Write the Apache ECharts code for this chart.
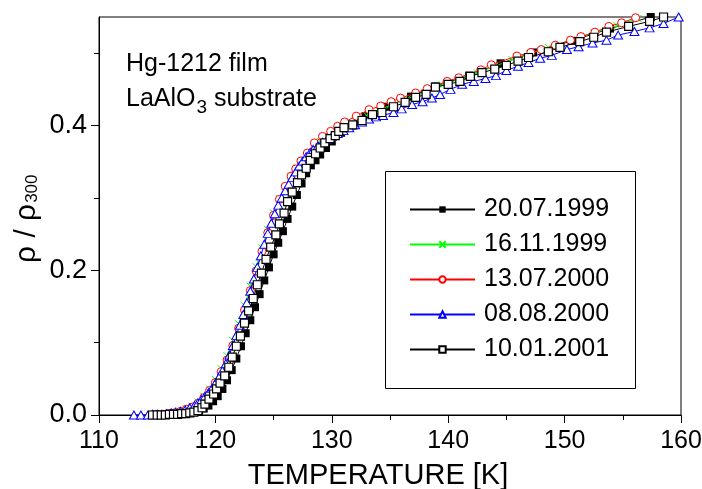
<!DOCTYPE html>
<html>
<head>
<meta charset="utf-8">
<script src="https://cdn.jsdelivr.net/npm/echarts@6/dist/echarts.min.js"></script>
<style>
html,body{margin:0;padding:0;background:#fff;}
#c{width:702px;height:489px;}
</style>
</head>
<body>
<div id="c"></div>
<script>
// ---- data ----
const NAMES = ['20.07.1999', '16.11.1999', '13.07.2000', '08.08.2000', '10.01.2001'];

// 20.07.1999 (filled squares)
const T_A = [115.0,115.4,115.8,116.2,116.6,117.0,117.4,117.8,118.2,118.6,119.0,119.4,119.8,120.2,120.6,121.0,121.4,121.8,122.2,122.6,123.0,123.4,123.8,124.2,124.6,125.0,125.4,125.8,126.2,126.6,127.0,127.4,127.8,128.2,128.6,129.0,129.5,130.0,130.8,131.7,132.9,134.7,136.8,138.9,141.8,144.5,147.3,150.6,153.9,157.4];
const R_A = [0.000,0.000,0.000,0.001,0.001,0.002,0.002,0.003,0.004,0.006,0.009,0.013,0.019,0.026,0.036,0.048,0.062,0.078,0.095,0.113,0.131,0.149,0.167,0.186,0.204,0.222,0.238,0.254,0.271,0.288,0.304,0.320,0.334,0.345,0.352,0.360,0.369,0.378,0.390,0.400,0.413,0.426,0.440,0.454,0.469,0.486,0.501,0.517,0.534,0.550];

// 16.11.1999 (green crosses)
const T_B = [114.5,115.0,115.5,116.0,116.5,117.0,117.5,118.0,118.5,119.0,119.5,120.0,120.5,121.0,121.5,122.0,122.5,123.0,123.5,124.0,124.5,125.0,125.5,126.0,126.5,127.0,127.5,128.0,128.5,129.0,129.6,130.3,131.0,132.0,133.0,134.0,135.0,136.5,138.0,139.5,141.0,142.5,144.0,145.5,147.0,148.6,150.5,152.5,154.5,156.3];
const R_B = [0.000,0.001,0.001,0.002,0.003,0.005,0.008,0.012,0.018,0.026,0.036,0.049,0.064,0.082,0.103,0.126,0.151,0.178,0.205,0.231,0.256,0.279,0.299,0.316,0.330,0.342,0.352,0.361,0.370,0.378,0.385,0.391,0.398,0.406,0.414,0.421,0.428,0.437,0.446,0.456,0.464,0.473,0.482,0.491,0.499,0.508,0.518,0.528,0.538,0.548];

// 13.07.2000 (red circles)
const T_C = [114.5,115.0,115.5,116.0,116.5,117.0,117.5,118.0,118.5,119.0,119.5,120.0,120.5,121.0,121.5,122.0,122.5,123.0,123.5,124.0,124.5,125.0,125.5,126.0,126.5,126.9,127.35,127.9,128.5,129.2,129.9,130.5,131.1,132.1,133.2,134.2,135.1,135.9,137.2,138.2,139.9,140.9,142.8,143.7,145.9,147.1,148.0,149.2,150.5,151.4,152.6,153.8,154.9,156.1];
const R_C = [0.000,0.001,0.001,0.002,0.003,0.005,0.008,0.011,0.016,0.024,0.034,0.045,0.060,0.076,0.096,0.120,0.145,0.172,0.199,0.226,0.252,0.276,0.298,0.316,0.330,0.340,0.351,0.362,0.376,0.385,0.392,0.399,0.405,0.413,0.422,0.427,0.433,0.438,0.445,0.451,0.461,0.466,0.477,0.484,0.496,0.501,0.505,0.511,0.518,0.523,0.529,0.537,0.542,0.549];

// 08.08.2000 (blue triangles)
const T_D = [113.0,113.6,114.2,114.6,115.0,115.4,115.8,116.2,116.6,117.0,117.4,117.8,118.2,118.5,118.8,119.1,119.4,119.7,120.0,120.3,120.6,120.9,121.2,121.5,121.8,122.1,122.4,122.7,123.0,123.3,123.6,123.9,124.2,124.5,124.8,125.1,125.4,125.7,126.0,126.3,126.6,126.9,127.2,127.5,127.8,128.1,128.4,128.8,129.2,129.6,130.0,130.5,131.0,131.5,132.0,132.6,133.2,133.8,134.4,135.3,136.0,136.9,137.8,138.6,139.3,140.2,141.2,142.2,143.2,144.1,145.0,146.0,146.9,147.9,148.9,150.2,151.2,152.4,153.6,154.6,156.0,157.3,158.5,159.8];
const R_D = [0.000,0.000,0.000,0.001,0.001,0.001,0.002,0.003,0.004,0.005,0.007,0.010,0.013,0.017,0.021,0.026,0.031,0.037,0.044,0.052,0.061,0.071,0.083,0.096,0.110,0.124,0.139,0.155,0.171,0.188,0.204,0.220,0.236,0.251,0.265,0.278,0.290,0.300,0.310,0.319,0.328,0.336,0.344,0.351,0.357,0.362,0.367,0.372,0.377,0.381,0.385,0.389,0.393,0.397,0.401,0.405,0.409,0.412,0.414,0.418,0.423,0.429,0.433,0.438,0.443,0.450,0.457,0.461,0.465,0.469,0.476,0.482,0.487,0.493,0.497,0.505,0.509,0.514,0.518,0.525,0.530,0.535,0.541,0.550];

// 10.01.2001 (open squares)
const T_E = [114.6,115.0,115.35,115.7,116.05,116.4,116.75,117.1,117.45,117.8,118.15,118.5,118.85,119.1,119.45,119.85,120.1,120.4,120.8,121.15,121.45,121.8,122.15,122.5,122.85,123.25,123.6,123.95,124.35,124.75,125.2,125.5,125.9,126.2,126.6,127.05,127.4,127.8,128.15,128.6,129.0,129.4,129.85,130.3,130.6,131.05,131.8,132.6,133.5,134.3,135.3,136.3,137.2,138.1,138.9,140.0,141.0,141.9,142.9,144.0,145.0,146.0,146.9,148.6,149.6,151.3,152.5,153.6,155.5,157.3,158.5];
const R_E = [0.000,0.000,0.000,0.000,0.001,0.001,0.001,0.002,0.002,0.003,0.004,0.006,0.010,0.015,0.022,0.029,0.036,0.044,0.054,0.066,0.080,0.095,0.109,0.127,0.144,0.161,0.180,0.196,0.215,0.232,0.249,0.264,0.279,0.295,0.308,0.321,0.332,0.341,0.352,0.361,0.369,0.376,0.382,0.386,0.392,0.397,0.401,0.407,0.415,0.418,0.426,0.432,0.439,0.443,0.453,0.457,0.461,0.468,0.473,0.478,0.483,0.489,0.494,0.502,0.508,0.516,0.522,0.529,0.537,0.544,0.550];

// axes / ticks
const X_MIN = 110, X_MAX = 160, X_STEP = 10;
const Y_MIN = 0, Y_MAX = 0.55;
const Y_MAJOR = [0, 0.2, 0.4];
const Y_MINOR = [0.1, 0.3, 0.5];
const X_TITLE = 'TEMPERATURE [K]';
const Y_TITLE_MAIN = 'ρ / ρ', Y_TITLE_SUB = '300';
const NOTE_1 = 'Hg-1212 film';
const NOTE_2A = 'LaAlO', NOTE_2SUB = '3', NOTE_2B = ' substrate';

// ---- chart ----
const FONT = "'Liberation Sans', Arial, sans-serif";
const mctx = document.createElement('canvas').getContext('2d');
function textW(txt, size) { mctx.font = size + 'px ' + FONT; return mctx.measureText(txt).width; }

const pairs = (t, r) => t.map((v, i) => [v, r[i]]);
const crossPath = 'path://M0,0L10,10M10,0L0,10';

const chart = echarts.init(document.getElementById('c'), null, {renderer: 'canvas'});

const baseSeries = {type: 'line', yAxisIndex: 0, xAxisIndex: 0, showAllSymbol: true, animation: false, emphasis: {disabled: true}};

const noteX = 126;
const w2a = textW(NOTE_2A, 25);
const wSub = textW(NOTE_2SUB, 19);
const yMainW = textW(Y_TITLE_MAIN, 30);

const option = {
  animation: false,
  backgroundColor: '#fff',
  textStyle: {fontFamily: FONT},
  grid: {left: 99, right: 21, top: 17, bottom: 74, show: true, borderColor: '#000', borderWidth: 1, backgroundColor: 'transparent', containLabel: false, outerBoundsMode: 'none'},
  xAxis: {
    type: 'value', min: X_MIN, max: X_MAX, interval: X_STEP,
    name: X_TITLE, nameLocation: 'middle', nameGap: 46,
    nameTextStyle: {fontSize: 29, color: '#000', fontFamily: FONT, padding: [0, 24, 0, 0]},
    axisLine: {show: true, lineStyle: {color: '#000', width: 1}},
    axisTick: {show: true, inside: false, length: 8, lineStyle: {color: '#000', width: 1}},
    minorTick: {show: true, splitNumber: 2, length: 5, lineStyle: {color: '#000', width: 1}},
    axisLabel: {fontSize: 25, color: '#000', margin: 14, fontFamily: FONT},
    splitLine: {show: false}
  },
  yAxis: [
    {
      type: 'value', min: Y_MIN, max: Y_MAX,
      axisLine: {show: true, onZero: false, lineStyle: {color: '#000', width: 1}},
      axisTick: {show: true, inside: false, length: 8, customValues: Y_MAJOR, lineStyle: {color: '#000', width: 1}},
      axisLabel: {fontSize: 27, color: '#000', margin: 12, fontFamily: FONT, customValues: Y_MAJOR, formatter: v => v.toFixed(1)},
      splitLine: {show: false}
    },
    {
      type: 'value', min: Y_MIN, max: Y_MAX, position: 'left',
      axisLine: {show: false},
      axisTick: {show: true, inside: false, length: 5, customValues: Y_MINOR, lineStyle: {color: '#000', width: 1}},
      axisLabel: {show: false},
      splitLine: {show: false}
    }
  ],
  legend: {
    orient: 'vertical', left: 409, top: 197, padding: 0,
    itemWidth: 65, itemHeight: 8, itemGap: 10,
    textStyle: {fontSize: 25, lineHeight: 25, color: '#000', fontFamily: FONT, padding: [0, 0, 0, 4]},
    data: NAMES,
    selectedMode: false
  },
  graphic: [
    {type: 'rect', left: 385, top: 171, shape: {width: 250, height: 217}, style: {fill: '#fff', stroke: '#000', lineWidth: 1}, z: -1, silent: true},
    {type: 'text', x: noteX, y: 64, style: {text: NOTE_1, font: '25px ' + FONT, fill: '#000', verticalAlign: 'middle', align: 'left'}},
    {type: 'text', x: noteX, y: 99, style: {text: NOTE_2A, font: '25px ' + FONT, fill: '#000', verticalAlign: 'middle', align: 'left'}},
    {type: 'text', x: noteX + w2a + 1, y: 108, style: {text: NOTE_2SUB, font: '19px ' + FONT, fill: '#000', verticalAlign: 'middle', align: 'left'}},
    {type: 'text', x: noteX + w2a + 1 + wSub, y: 99, style: {text: NOTE_2B, font: '25px ' + FONT, fill: '#000', verticalAlign: 'middle', align: 'left'}},
    {type: 'group', x: 27, y: 263, rotation: Math.PI / 2, children: [
      {type: 'text', x: 0, y: 0, style: {text: Y_TITLE_MAIN, font: '30px ' + FONT, fill: '#000', verticalAlign: 'middle', align: 'left'}},
      {type: 'text', x: yMainW + 1, y: 5, style: {text: Y_TITLE_SUB, font: '17px ' + FONT, fill: '#000', verticalAlign: 'middle', align: 'left'}}
    ]}
  ],
  series: [
    Object.assign({}, baseSeries, {
      name: NAMES[0], data: pairs(T_A, R_A), z: 2,
      symbol: 'rect', symbolSize: 8,
      itemStyle: {color: '#000', borderColor: '#000', borderWidth: 0},
      lineStyle: {color: '#000', width: 1}
    }),
    Object.assign({}, baseSeries, {
      name: NAMES[1], data: pairs(T_B, R_B), z: 3,
      symbol: crossPath, symbolSize: 7,
      itemStyle: {color: 'none', borderColor: '#00ff00', borderWidth: 1},
      lineStyle: {color: '#00ff00', width: 1}
    }),
    Object.assign({}, baseSeries, {
      name: NAMES[2], data: pairs(T_C, R_C), z: 4,
      symbol: 'circle', symbolSize: 8,
      itemStyle: {color: '#fff', borderColor: '#ff0000', borderWidth: 1},
      lineStyle: {color: '#ff0000', width: 1}
    }),
    Object.assign({}, baseSeries, {
      name: NAMES[3], data: pairs(T_D, R_D), z: 5,
      symbol: 'triangle', symbolSize: [9, 8],
      itemStyle: {color: '#fff', borderColor: '#0000ff', borderWidth: 1},
      lineStyle: {color: '#0000ff', width: 1}
    }),
    Object.assign({}, baseSeries, {
      name: NAMES[4], data: pairs(T_E, R_E), z: 6,
      symbol: 'rect', symbolSize: 8,
      itemStyle: {color: '#fff', borderColor: '#000', borderWidth: 1.2},
      lineStyle: {color: '#000', width: 1}
    })
  ]
};
chart.setOption(option);
</script>
</body>
</html>
